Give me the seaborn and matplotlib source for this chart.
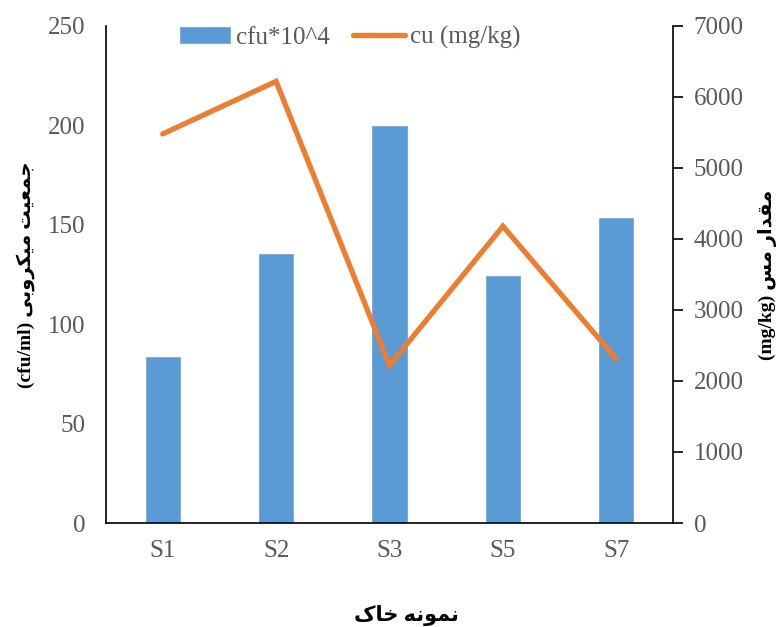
import matplotlib
matplotlib.use("Agg")
import matplotlib.pyplot as plt
import seaborn as sns
import pandas as pd
import numpy as np

samples = ["S1", "S2", "S3", "S5", "S7"]
cfu = [84, 136, 200, 125, 154]
cu = [5480, 6220, 2220, 4180, 2310]
left_ticks = [0, 50, 100, 150, 200, 250]
right_ticks = [0, 1000, 2000, 3000, 4000, 5000, 6000, 7000]

sns.set_theme(style="white")
plt.rcParams['font.family'] = ['Liberation Serif', 'DejaVu Sans']

GRAY = "#595959"
BLUE = "#5B9BD5"
ORANGE = "#ED7D31"

# Visually shaped Persian strings (presentation forms, visual LTR order)
def vis(chars):
    return "".join(chr(c) for c in reversed(chars))

w_jamiat = vis([0xFE9F, 0xFEE4, 0xFECC, 0xFEF4, 0xFE96])
w_mikrobi = vis([0xFEE3, 0xFEF4, 0xFB91, 0xFEAE, 0xFEED, 0xFE91, 0xFBFD])
w_meghdar = vis([0xFEE3, 0xFED8, 0xFEAA, 0xFE8D, 0xFEAD])
w_mes = vis([0xFEE3, 0xFEB2])
w_nemune = vis([0xFEE7, 0xFEE4, 0xFEEE, 0xFEE7, 0xFEEA])
w_khak = vis([0xFEA7, 0xFE8E, 0xFB8E])

ylabel_left = "(cfu/ml) " + w_mikrobi + " " + w_jamiat
ylabel_right = "(mg/kg) " + w_mes + " " + w_meghdar
xlabel = w_khak + " " + w_nemune

df = pd.DataFrame({"sample": samples, "cfu": cfu, "cu": cu})
df["pos"] = np.arange(len(samples))

fig = plt.figure(figsize=(7.82, 6.27), dpi=100)
ax = fig.add_axes([106/782, 1-523/627, (673-106)/782, (523-26)/627])

sns.barplot(data=df, x="sample", y="cfu", color=BLUE, saturation=1,
            width=0.32, ax=ax, label="cfu*10^4", zorder=2)
ax.set_ylim(0, 250)
ax.set_xlim(-0.5, len(samples) - 0.5)
ax.set_yticks(left_ticks)

ax2 = ax.twinx()
sns.lineplot(data=df, x="pos", y="cu", color=ORANGE, linewidth=3.8,
             ax=ax2, label="cu (mg/kg)", solid_capstyle="round",
             solid_joinstyle="miter")
ax2.set_ylim(0, 7000)
ax2.set_yticks(right_ticks)
ax2.set_xlim(-0.5, len(samples) - 0.5)

for a in (ax, ax2):
    a.spines["top"].set_visible(False)
    for s in a.spines.values():
        s.set_color("#000000")
        s.set_linewidth(1.2)
ax.spines["right"].set_visible(False)
ax2.spines["left"].set_visible(False)
ax2.spines["bottom"].set_visible(False)

ax.tick_params(axis="y", length=0, labelsize=18, labelcolor=GRAY, pad=15)
ax.tick_params(axis="x", length=0, labelsize=18, labelcolor=GRAY, pad=12)
ax2.tick_params(axis="y", length=7, width=1.2, direction="out", color="black",
                labelsize=18, labelcolor=GRAY, pad=8, right=True)

ax.set_xlabel(xlabel, fontsize=15, fontweight="bold", color="black", labelpad=28)
ax.xaxis.set_label_coords(0.529, -0.165)
ax.set_ylabel(ylabel_left, fontsize=14, fontweight="bold", color="black", labelpad=9)
ax2.set_ylabel(ylabel_right, fontsize=14, fontweight="bold", color="black",
               labelpad=10, rotation=90)
ax2.yaxis.set_label_position("right")

h1, l1 = ax.get_legend_handles_labels()
h2, l2 = ax2.get_legend_handles_labels()
if ax.get_legend():
    ax.get_legend().remove()
if ax2.get_legend():
    ax2.get_legend().remove()
leg = ax2.legend(h1 + h2, l1 + l2, loc="upper center", bbox_to_anchor=(0.43, 1.045),
                 ncol=2, frameon=False, fontsize=18, handlelength=2.1,
                 columnspacing=0.9, handletextpad=0.2)
for t in leg.get_texts():
    t.set_color(GRAY)

fig.savefig("out.png", dpi=100)
